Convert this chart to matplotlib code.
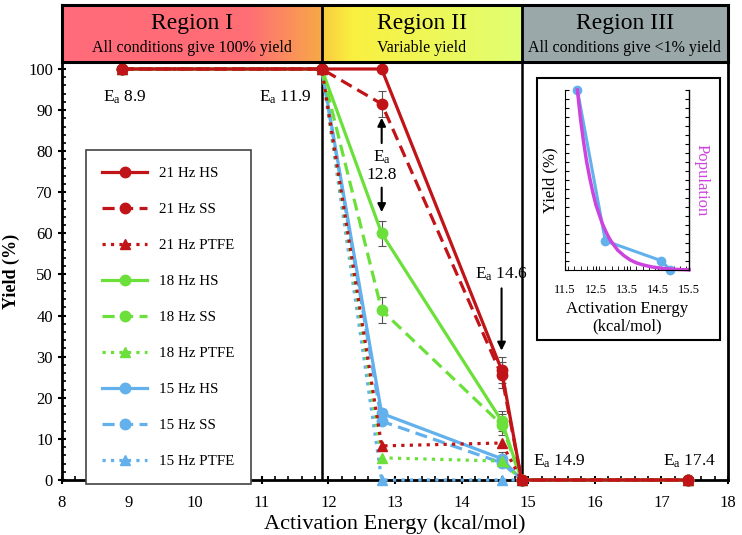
import numpy as np
import matplotlib
matplotlib.use('Agg')
import matplotlib.pyplot as plt
from matplotlib.patches import Rectangle
from matplotlib.ticker import MultipleLocator, NullFormatter

plt.rcParams['font.family'] = ['Liberation Serif', 'DejaVu Serif']
plt.rcParams['mathtext.default'] = 'regular'

# activation energies (kcal/mol)
energy = [8.9, 11.9, 12.8, 14.6, 14.9, 17.4]

# yields (%)
hs21 = [100, 100, 100, 26.8, 0, 0]
ss21 = [100, 100, 91.5, 25.5, 0, 0]
ptfe21 = [100, 100, 8.3, 9.0, 0, 0]
hs18 = [100, 100, 60.0, 14.4, 0, 0]
ss18 = [100, 100, 41.3, 13.5, 0, 0]
ptfe18 = [100, 100, 5.4, 4.6, 0, 0]
hs15 = [100, 100, 16.2, 5.2, 0, 0]
ss15 = [100, 100, 14.3, 4.2, 0, 0]
ptfe15 = [100, 100, 0, 0, 0, 0]

err21hs = [0, 0, 0, 3.2, 0, 0]
err21ss = [0, 0, 3.2, 3.2, 0, 0]
err18hs = [0, 0, 3.0, 2.5, 0, 0]
err18ss = [0, 0, 3.2, 2.5, 0, 0]
err15hs = [0, 0, 1.0, 1.5, 0, 0]

# inset
inset_E = [11.9, 12.8, 14.6, 14.9]
inset_yield = [100, 16.2, 5.2, 0]
pop_E = [11.9, 12.0, 12.1, 12.2, 12.3, 12.4, 12.5, 12.6, 12.7, 12.8, 12.9, 13.0,
         13.2, 13.4, 13.6, 13.8, 14.0, 14.3, 14.6, 15.0, 15.5]
pop = [100, 84, 71, 60, 51, 43, 36, 31, 26, 22, 18.5, 15.6,
       11, 8, 5.6, 4.0, 2.9, 1.7, 1.0, 0.4, 0.1]

red = '#c01418'
green = '#6be03a'
blue = '#62b0ec'
magenta = '#cc44dd'

fig = plt.figure(figsize=(7.42, 5.35), dpi=100)
W, H = 742, 535


def frac(x0, y0, x1, y1):
    return [x0 / W, 1 - y1 / H, (x1 - x0) / W, (y1 - y0) / H]


ax = fig.add_axes(frac(62, 62, 728, 480))
ax.set_xlim(8, 18)
ax.set_ylim(0, 101.7)

series = [
    (ptfe15, blue, ':', '^', '15 Hz PTFE', None),
    (ss15, blue, '--', 'o', '15 Hz SS', None),
    (hs15, blue, '-', 'o', '15 Hz HS', err15hs),
    (ptfe18, green, ':', '^', '18 Hz PTFE', None),
    (ss18, green, '--', 'o', '18 Hz SS', err18ss),
    (hs18, green, '-', 'o', '18 Hz HS', err18hs),
    (ptfe21, red, ':', '^', '21 Hz PTFE', None),
    (ss21, red, '--', 'o', '21 Hz SS', err21ss),
    (hs21, red, '-', 'o', '21 Hz HS', err21hs),
]
handles = {}
for ys, c, ls, mk, lab, err in series:
    if err is not None:
        ax.errorbar(energy, ys, yerr=err, fmt='none', ecolor='#555555',
                    elinewidth=0.8, capsize=3, capthick=0.8, zorder=2)
    ln, = ax.plot(energy, ys, color=c, linestyle=ls, linewidth=2.3,
                  marker=mk, markersize=7.5, label=lab, zorder=3, clip_on=False)
    if ls == '--':
        ln.set_dashes((3.8, 2))
    handles[lab] = ln

for xv in [11.9, 14.9]:
    ax.axvline(xv, color='black', linewidth=1.8, zorder=1)

ax.xaxis.set_major_locator(MultipleLocator(1))
ax.xaxis.set_minor_locator(MultipleLocator(0.2))
ax.yaxis.set_major_locator(MultipleLocator(10))
ax.yaxis.set_minor_locator(MultipleLocator(2))
ax.tick_params(axis='both', which='major', direction='inout', length=6, width=1.5,
               labelsize=12)
ax.tick_params(axis='both', which='minor', direction='in', length=3, width=1.2)
ax.tick_params(axis='x', which='major', pad=8)
ax.set_yticks(range(0, 101, 10))
for s in ax.spines.values():
    s.set_linewidth(2)

ax.set_xlabel('Activation Energy (kcal/mol)', fontsize=16, labelpad=2)
ax.set_ylabel('Yield (%)', fontsize=13, fontweight='bold', labelpad=6)

order = ['21 Hz HS', '21 Hz SS', '21 Hz PTFE', '18 Hz HS', '18 Hz SS', '18 Hz PTFE',
         '15 Hz HS', '15 Hz SS', '15 Hz PTFE']
leg = ax.legend([handles[k] for k in order], order, loc='upper left',
                bbox_to_anchor=(0.036, 0.79), fontsize=10.8, labelspacing=1.5,
                handlelength=3.0, borderpad=1.1, fancybox=False, framealpha=1,
                edgecolor='#444444', borderaxespad=0)
leg.get_frame().set_linewidth(1.2)

# annotations
ax.text(8.95, 93, 'E$_a$ 8.9', ha='center', va='center', fontsize=12.5)
ax.text(11.75, 93, 'E$_a$ 11.9', ha='right', va='center', fontsize=12.5)
ax.text(12.8, 78.6, 'E$_a$', ha='center', va='center', fontsize=12.5)
ax.text(12.8, 74.2, '12.8', ha='center', va='center', fontsize=12.5)
ax.annotate('', xy=(12.8, 88.8), xytext=(12.8, 81.3),
            arrowprops=dict(arrowstyle='-|>', color='black', lw=1.5, mutation_scale=12))
ax.annotate('', xy=(12.8, 64.5), xytext=(12.8, 71.8),
            arrowprops=dict(arrowstyle='-|>', color='black', lw=1.5, mutation_scale=12))
ax.text(14.6, 50, 'E$_a$ 14.6', ha='center', va='center', fontsize=12.5)
ax.annotate('', xy=(14.6, 30.8), xytext=(14.6, 47.3),
            arrowprops=dict(arrowstyle='-|>', color='black', lw=1.5, mutation_scale=12))
ax.text(15.07, 4.6, 'E$_a$ 14.9', ha='left', va='center', fontsize=12.5)
ax.text(17.42, 4.6, 'E$_a$ 17.4', ha='center', va='center', fontsize=12.5)

# header with region boxes
hax = fig.add_axes(frac(62, 5, 728, 62))
hax.set_xticks([])
hax.set_yticks([])


def gradient(stops, n=200):
    pos = [p for p, c in stops]
    t = np.linspace(0, 1, n)
    rgb = np.stack([np.interp(t, pos, [c[i] for p, c in stops]) for i in range(3)], axis=-1)
    return rgb[np.newaxis, :, :]


reg1 = [(0, (1.0, 0.42, 0.48)), (0.72, (1.0, 0.43, 0.46)), (1.0, (0.97, 0.66, 0.28))]
reg2 = [(0, (0.98, 0.80, 0.25)), (0.15, (0.98, 0.94, 0.25)), (1.0, (0.88, 1.0, 0.45))]
reg3 = [(0, (0.61, 0.66, 0.67)), (1.0, (0.61, 0.66, 0.67))]
hax.imshow(gradient(reg1), extent=[8, 11.9, 0, 1], aspect='auto')
hax.imshow(gradient(reg2), extent=[11.9, 14.9, 0, 1], aspect='auto')
hax.imshow(gradient(reg3), extent=[14.9, 18, 0, 1], aspect='auto')
hax.set_xlim(8, 18)
hax.set_ylim(0, 1)
for xv in [11.9, 14.9]:
    hax.axvline(xv, color='black', linewidth=2)
for s in hax.spines.values():
    s.set_linewidth(2.2)

titles = [('Region I', 'All conditions give 100% yield', 9.95),
          ('Region II', 'Variable yield', 13.4),
          ('Region III', 'All conditions give <1% yield', 16.45)]
for t, sub, xc in titles:
    hax.text(xc, 0.67, t, ha='center', va='center', fontsize=17)
    hax.text(xc, 0.24, sub, ha='center', va='center', fontsize=11.5)

# inset frame and inset plot
fig.patches.append(Rectangle((537 / W, 1 - 340 / H), (720 - 537) / W, (340 - 78) / H,
                             transform=fig.transFigure, facecolor='white',
                             edgecolor='black', linewidth=1.5, zorder=5))
iax = fig.add_axes(frac(565, 90, 689, 270), zorder=6)
iax.set_xlim(11.5, 15.5)
iax.set_ylim(0, 100)
iax.plot(inset_E, inset_yield, color=blue, linewidth=2.2, marker='o', markersize=6,
         clip_on=False)
iax.plot(pop_E, pop, color=magenta, linewidth=2.5, clip_on=False)
iax.set_xticks([11.5, 12.5, 13.5, 14.5, 15.5])
iax.xaxis.set_minor_locator(MultipleLocator(0.2))
iax.yaxis.set_major_locator(MultipleLocator(5))
iax.yaxis.set_major_formatter(NullFormatter())
iax.tick_params(axis='y', which='major', direction='in', length=3, left=True, right=True)
iax.tick_params(axis='x', which='both', direction='in', length=3, labelsize=9, pad=10)
iax.spines['top'].set_visible(False)
iax.spines['right'].set_linewidth(1)
iax.set_ylabel('Yield (%)', fontsize=12, labelpad=1)
iax.set_xlabel('Activation Energy\n(kcal/mol)', fontsize=12, labelpad=4,
               linespacing=1.1)
iax.text(1.1, 0.5, 'Population', transform=iax.transAxes, rotation=-90,
         ha='center', va='center', color=magenta, fontsize=12)

fig.savefig('out.png', dpi=100)
